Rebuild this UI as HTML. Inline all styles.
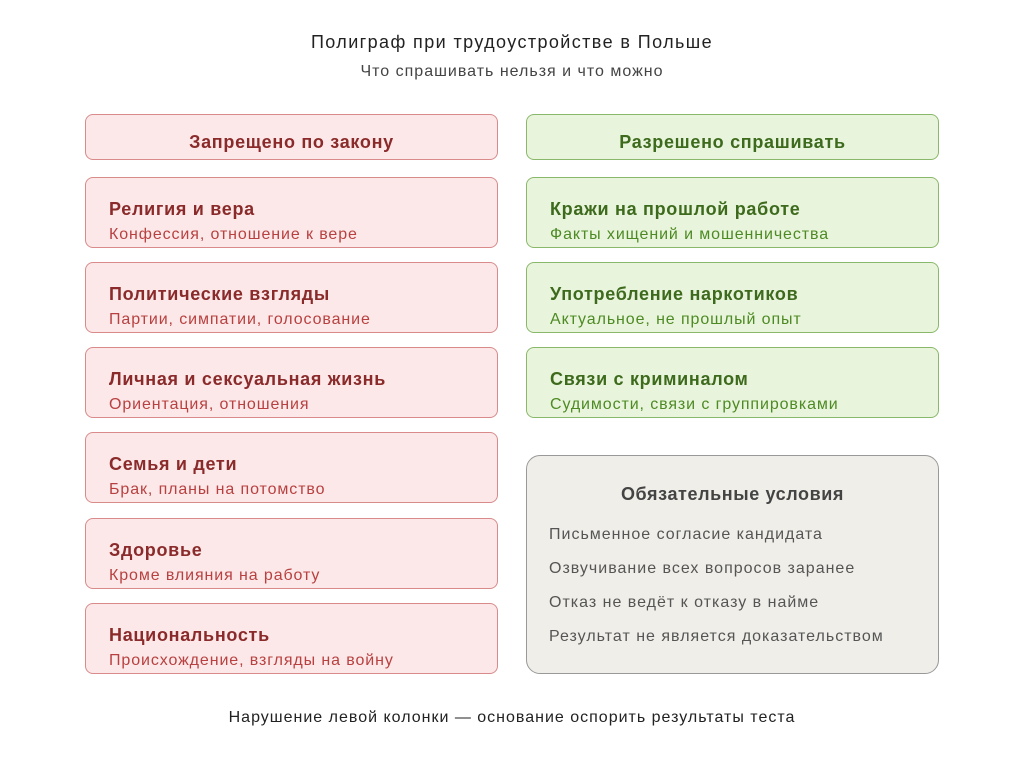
<!DOCTYPE html>
<html><head><meta charset="utf-8"><style>
body{margin:0;width:1024px;height:768px;background:#fff;font-family:"Liberation Sans","DejaVu Sans",sans-serif;position:relative;overflow:hidden}
.a{position:absolute;box-sizing:border-box}
.t{position:absolute;white-space:nowrap}
.r{background:#fce8e8;border:1px solid #d98a8a;border-radius:8px}
.g{background:#e8f5dc;border:1px solid #8ab86a;border-radius:8px}
.h{left:0;right:0;text-align:center;font-size:18px;top:17px;font-weight:bold;letter-spacing:0.7px}
.it{left:23px;top:21px;font-size:18px;font-weight:bold;letter-spacing:0.7px}
.st{left:23px;top:48px;font-size:16px;letter-spacing:0.9px}
.r .it,.r .h{color:#8a2a2a}.r .st{color:#b84040}
.g .it,.g .h{color:#3d6a1c}.g .st{color:#4e8a24}
.c{left:22px;font-size:16px;color:#555;letter-spacing:1px}
</style></head><body>
<div class="t" style="left:0;right:0;text-align:center;top:32px;font-size:18px;letter-spacing:1.4px;color:#222">Полиграф при трудоустройстве в Польше</div>
<div class="t" style="left:0;right:0;text-align:center;top:63px;font-size:16px;letter-spacing:1px;color:#444">Что спрашивать нельзя и что можно</div>

<div class="a r" style="left:85px;top:114px;width:413px;height:46px"><div class="t h">Запрещено по закону</div></div>
<div class="a g" style="left:526px;top:114px;width:413px;height:46px"><div class="t h">Разрешено спрашивать</div></div>

<div class="a r" style="left:85px;top:177px;width:413px;height:71px"><div class="t it">Религия и вера</div><div class="t st">Конфессия, отношение к вере</div></div>
<div class="a r" style="left:85px;top:262px;width:413px;height:71px"><div class="t it">Политические взгляды</div><div class="t st">Партии, симпатии, голосование</div></div>
<div class="a r" style="left:85px;top:347px;width:413px;height:71px"><div class="t it">Личная и сексуальная жизнь</div><div class="t st">Ориентация, отношения</div></div>
<div class="a r" style="left:85px;top:432px;width:413px;height:71px"><div class="t it">Семья и дети</div><div class="t st">Брак, планы на потомство</div></div>
<div class="a r" style="left:85px;top:518px;width:413px;height:71px"><div class="t it">Здоровье</div><div class="t st">Кроме влияния на работу</div></div>
<div class="a r" style="left:85px;top:603px;width:413px;height:71px"><div class="t it">Национальность</div><div class="t st">Происхождение, взгляды на войну</div></div>

<div class="a g" style="left:526px;top:177px;width:413px;height:71px"><div class="t it">Кражи на прошлой работе</div><div class="t st">Факты хищений и мошенничества</div></div>
<div class="a g" style="left:526px;top:262px;width:413px;height:71px"><div class="t it">Употребление наркотиков</div><div class="t st">Актуальное, не прошлый опыт</div></div>
<div class="a g" style="left:526px;top:347px;width:413px;height:71px"><div class="t it">Связи с криминалом</div><div class="t st">Судимости, связи с группировками</div></div>

<div class="a" style="left:526px;top:455px;width:413px;height:219px;background:#f0eee8;border:1px solid #999;border-radius:14px">
<div class="t" style="left:0;right:0;text-align:center;top:28px;font-size:18px;font-weight:bold;letter-spacing:0.6px;color:#444">Обязательные условия</div>
<div class="t c" style="top:70px">Письменное согласие кандидата</div>
<div class="t c" style="top:104px">Озвучивание всех вопросов заранее</div>
<div class="t c" style="top:138px">Отказ не ведёт к отказу в найме</div>
<div class="t c" style="top:172px">Результат не является доказательством</div>
</div>

<div class="t" style="left:0;right:0;text-align:center;top:709px;font-size:16px;letter-spacing:1px;color:#222">Нарушение левой колонки — основание оспорить результаты теста</div>
</body></html>
